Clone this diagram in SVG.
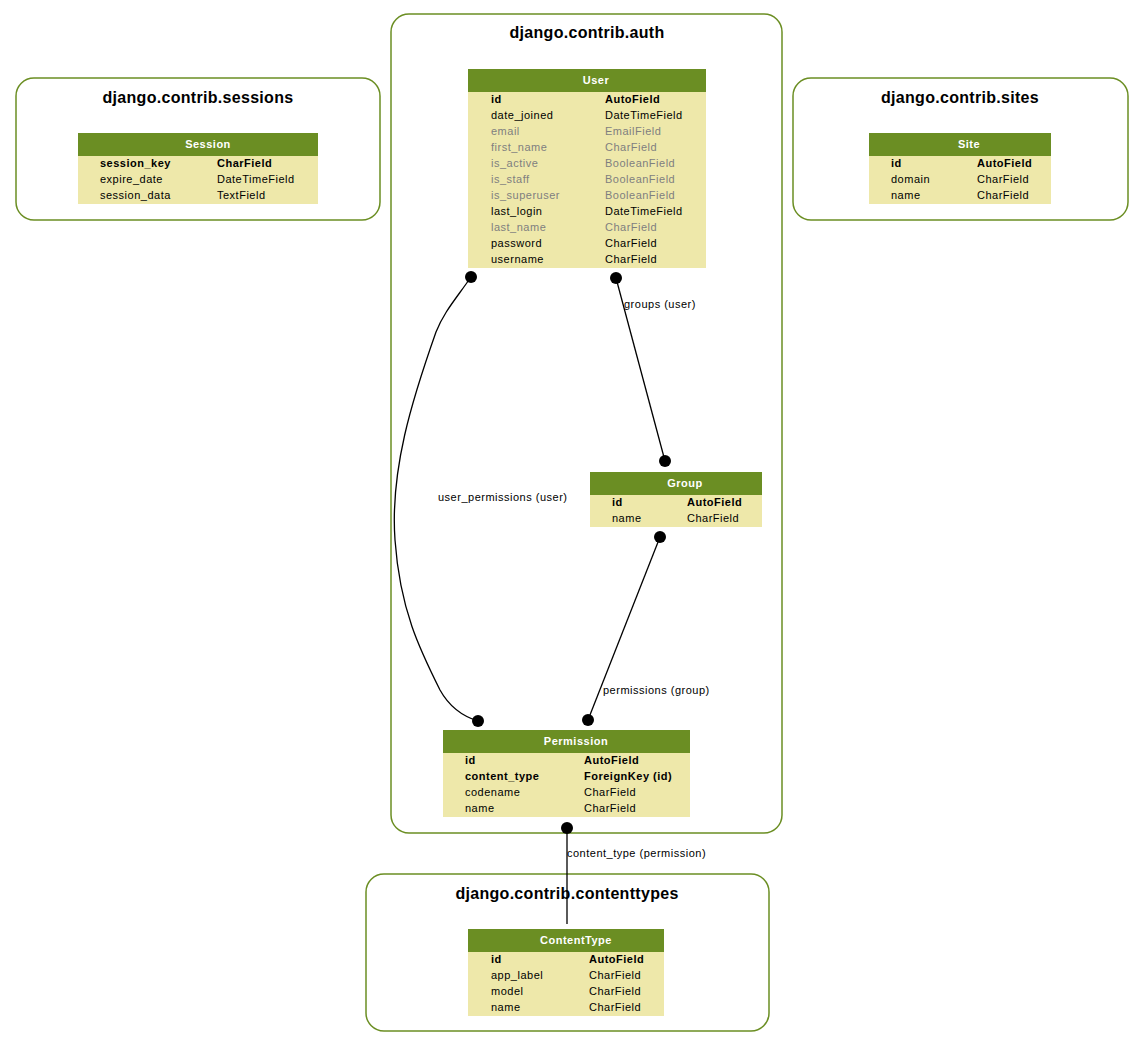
<svg xmlns="http://www.w3.org/2000/svg" width="1140" height="1049" viewBox="0 0 1140 1049">
<style>
.cl{fill:#fff;stroke:#6b8e23;stroke-width:1.5}
.ct{font-family:"Liberation Sans",Arial,sans-serif;font-size:16px;font-weight:bold;fill:#000;text-anchor:middle;letter-spacing:0.3px}
.hd{fill:#6b8e23}
.bd{fill:#eee8aa}
.ht{font-family:"Liberation Sans",Arial,sans-serif;font-size:11px;font-weight:bold;fill:#fff;text-anchor:middle;letter-spacing:0.5px}
.f{font-family:"Liberation Sans",Arial,sans-serif;font-size:11px;fill:#000;letter-spacing:0.5px}
.b{font-weight:bold}
.g{fill:#7f7f7f}
.e{fill:none;stroke:#000;stroke-width:1.3}
.d{fill:#000}
.el{font-family:"Liberation Sans",Arial,sans-serif;font-size:11px;fill:#000;letter-spacing:0.5px}
</style>
<rect width="1140" height="1049" fill="#fff"/>
<g id="cluster-sessions">
<rect class="cl" x="16" y="78" width="364" height="142" rx="18"/>
<text class="ct" x="198" y="103">django.contrib.sessions</text>
</g>
<g id="cluster-auth">
<rect class="cl" x="391" y="14" width="391" height="819" rx="18"/>
<text class="ct" x="587" y="38">django.contrib.auth</text>
</g>
<g id="cluster-sites">
<rect class="cl" x="793" y="78" width="335" height="142" rx="18"/>
<text class="ct" x="960" y="103">django.contrib.sites</text>
</g>
<g id="cluster-contenttypes">
<rect class="cl" x="366" y="874" width="403" height="157" rx="18"/>
<text class="ct" x="567" y="899">django.contrib.contenttypes</text>
</g>
<g id="connectors">
<path class="e" d="M471,277 C455,300 444,312 436,332 C412,400 390,470 395,540 C400,610 420,650 440,690 C450,708 465,717 478,721"/>
<circle class="d" cx="471" cy="277" r="6"/>
<circle class="d" cx="478" cy="721" r="6"/>
<text class="el" x="438" y="501">user_permissions (user)</text>
<path class="e" d="M616,278 L665,461"/>
<circle class="d" cx="616" cy="278" r="6"/>
<circle class="d" cx="665" cy="461" r="6"/>
<text class="el" x="624" y="308">groups (user)</text>
<path class="e" d="M660,537 L588,720"/>
<circle class="d" cx="660" cy="537" r="6"/>
<circle class="d" cx="588" cy="720" r="6"/>
<text class="el" x="603" y="694">permissions (group)</text>
<path class="e" d="M567,828 L567,924"/>
<circle class="d" cx="567" cy="828" r="6"/>
<text class="el" x="567" y="857">content_type (permission)</text>
</g>
<g id="node-session">
<rect class="bd" x="78" y="133" width="240" height="71"/>
<rect class="hd" x="78" y="133" width="240" height="23"/>
<text class="ht" x="208" y="148">Session</text>
<text class="f b" x="100" y="167">session_key</text><text class="f b" x="217" y="167">CharField</text>
<text class="f" x="100" y="183">expire_date</text><text class="f" x="217" y="183">DateTimeField</text>
<text class="f" x="100" y="199">session_data</text><text class="f" x="217" y="199">TextField</text>
</g>
<g id="node-site">
<rect class="bd" x="869" y="133" width="182" height="71"/>
<rect class="hd" x="869" y="133" width="182" height="23"/>
<text class="ht" x="969" y="148">Site</text>
<text class="f b" x="891" y="167">id</text><text class="f b" x="977" y="167">AutoField</text>
<text class="f" x="891" y="183">domain</text><text class="f" x="977" y="183">CharField</text>
<text class="f" x="891" y="199">name</text><text class="f" x="977" y="199">CharField</text>
</g>
<g id="node-user">
<rect class="bd" x="468" y="69" width="238" height="199"/>
<rect class="hd" x="468" y="69" width="238" height="23"/>
<text class="ht" x="596" y="84">User</text>
<text class="f b" x="491" y="103">id</text><text class="f b" x="605" y="103">AutoField</text>
<text class="f" x="491" y="119">date_joined</text><text class="f" x="605" y="119">DateTimeField</text>
<text class="f g" x="491" y="135">email</text><text class="f g" x="605" y="135">EmailField</text>
<text class="f g" x="491" y="151">first_name</text><text class="f g" x="605" y="151">CharField</text>
<text class="f g" x="491" y="167">is_active</text><text class="f g" x="605" y="167">BooleanField</text>
<text class="f g" x="491" y="183">is_staff</text><text class="f g" x="605" y="183">BooleanField</text>
<text class="f g" x="491" y="199">is_superuser</text><text class="f g" x="605" y="199">BooleanField</text>
<text class="f" x="491" y="215">last_login</text><text class="f" x="605" y="215">DateTimeField</text>
<text class="f g" x="491" y="231">last_name</text><text class="f g" x="605" y="231">CharField</text>
<text class="f" x="491" y="247">password</text><text class="f" x="605" y="247">CharField</text>
<text class="f" x="491" y="263">username</text><text class="f" x="605" y="263">CharField</text>
</g>
<g id="node-group">
<rect class="bd" x="590" y="472" width="172" height="55"/>
<rect class="hd" x="590" y="472" width="172" height="23"/>
<text class="ht" x="685" y="487">Group</text>
<text class="f b" x="612" y="506">id</text><text class="f b" x="687" y="506">AutoField</text>
<text class="f" x="612" y="522">name</text><text class="f" x="687" y="522">CharField</text>
</g>
<g id="node-permission">
<rect class="bd" x="443" y="730" width="247" height="87"/>
<rect class="hd" x="443" y="730" width="247" height="23"/>
<text class="ht" x="576" y="745">Permission</text>
<text class="f b" x="465" y="764">id</text><text class="f b" x="584" y="764">AutoField</text>
<text class="f b" x="465" y="780">content_type</text><text class="f b" x="584" y="780">ForeignKey (id)</text>
<text class="f" x="465" y="796">codename</text><text class="f" x="584" y="796">CharField</text>
<text class="f" x="465" y="812">name</text><text class="f" x="584" y="812">CharField</text>
</g>
<g id="node-contenttype">
<rect class="bd" x="468" y="929" width="196" height="87"/>
<rect class="hd" x="468" y="929" width="196" height="23"/>
<text class="ht" x="576" y="944">ContentType</text>
<text class="f b" x="491" y="963">id</text><text class="f b" x="589" y="963">AutoField</text>
<text class="f" x="491" y="979">app_label</text><text class="f" x="589" y="979">CharField</text>
<text class="f" x="491" y="995">model</text><text class="f" x="589" y="995">CharField</text>
<text class="f" x="491" y="1011">name</text><text class="f" x="589" y="1011">CharField</text>
</g>
</svg>
